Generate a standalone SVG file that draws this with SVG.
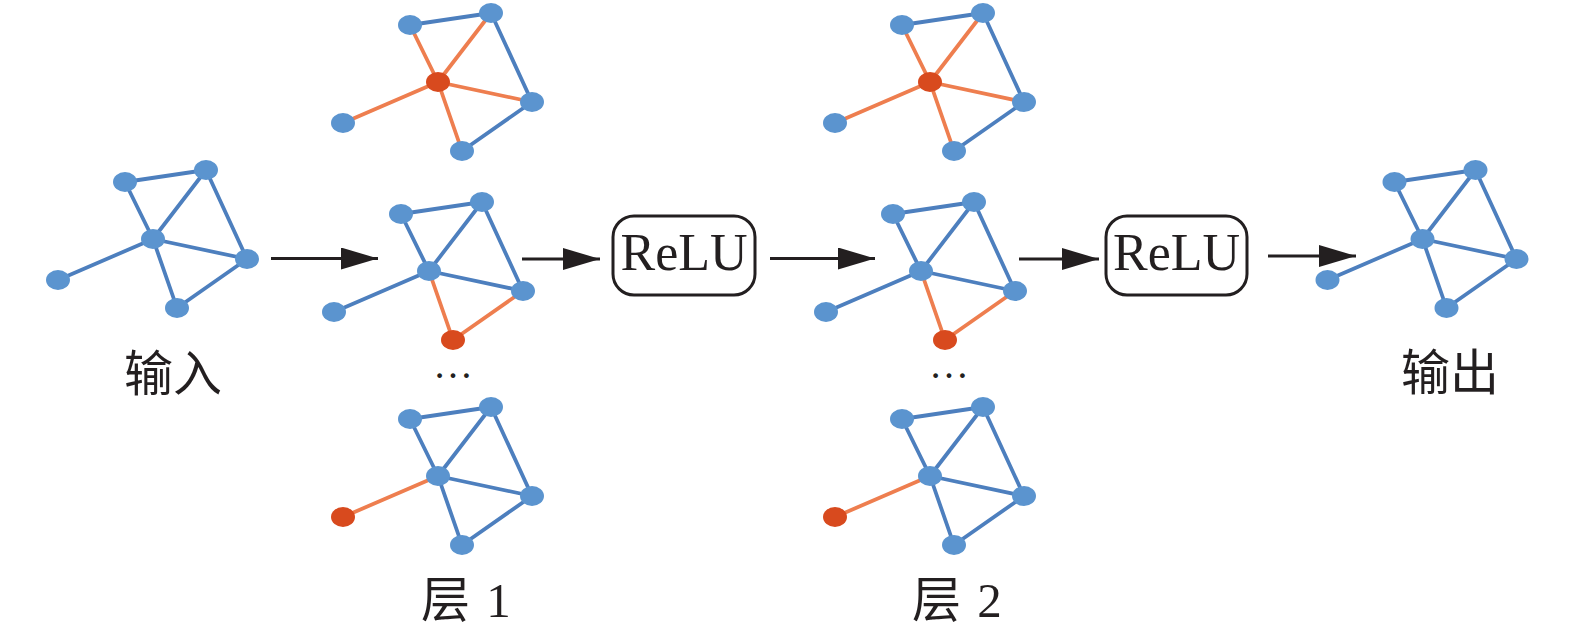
<svg xmlns="http://www.w3.org/2000/svg" width="1575" height="634" viewBox="0 0 1575 634">
<style>
.eb{stroke:#4D7FBE;stroke-width:3.8;fill:none;stroke-linecap:round}
.eo{stroke:#EE7E4F;stroke-width:3.8;fill:none;stroke-linecap:round}
.nb{fill:#5B94CF}
.nr{fill:#D84A1E}
.arrow{stroke:#231F20;stroke-width:3;fill:none}
.box{fill:#fff;stroke:#231F20;stroke-width:3}
.relu{font-family:"Liberation Serif","Times New Roman",serif;font-size:52px;fill:#231F20;text-anchor:middle}
.lbl{font-family:"Liberation Serif","Noto Sans CJK SC",serif;font-size:49px;fill:#231F20}
.dots{font-family:"Liberation Serif",serif;font-size:40px;fill:#231F20;text-anchor:middle}
</style>
<defs>
<marker id="ah" markerUnits="userSpaceOnUse" markerWidth="37" markerHeight="22" refX="37" refY="11" orient="auto">
<path d="M0,0 L37,11 L0,22 z" fill="#231F20"/>
</marker>
</defs>
<rect width="1575" height="634" fill="#fff"/>

<!-- input -->
<g id="input">
<line class="eb" x1="125" y1="182" x2="206" y2="170"/>
<line class="eb" x1="125" y1="182" x2="153" y2="239"/>
<line class="eb" x1="206" y1="170" x2="153" y2="239"/>
<line class="eb" x1="206" y1="170" x2="247" y2="259"/>
<line class="eb" x1="153" y1="239" x2="247" y2="259"/>
<line class="eb" x1="153" y1="239" x2="177" y2="308"/>
<line class="eb" x1="153" y1="239" x2="58" y2="280"/>
<line class="eb" x1="247" y1="259" x2="177" y2="308"/>
<ellipse class="nb" cx="125" cy="182" rx="12" ry="10"/>
<ellipse class="nb" cx="206" cy="170" rx="12" ry="10"/>
<ellipse class="nb" cx="153" cy="239" rx="12" ry="10"/>
<ellipse class="nb" cx="247" cy="259" rx="12" ry="10"/>
<ellipse class="nb" cx="177" cy="308" rx="12" ry="10"/>
<ellipse class="nb" cx="58" cy="280" rx="12" ry="10"/>
<text class="lbl" x="173" y="391" text-anchor="middle">输入</text>
</g>

<!-- layer 1 top -->
<g id="layer1-top" transform="translate(285,-157)">
<line class="eb" x1="125" y1="182" x2="206" y2="170"/>
<line class="eo" x1="125" y1="182" x2="153" y2="239"/>
<line class="eo" x1="206" y1="170" x2="153" y2="239"/>
<line class="eb" x1="206" y1="170" x2="247" y2="259"/>
<line class="eo" x1="153" y1="239" x2="247" y2="259"/>
<line class="eo" x1="153" y1="239" x2="177" y2="308"/>
<line class="eo" x1="153" y1="239" x2="58" y2="280"/>
<line class="eb" x1="247" y1="259" x2="177" y2="308"/>
<ellipse class="nb" cx="125" cy="182" rx="12" ry="10"/>
<ellipse class="nb" cx="206" cy="170" rx="12" ry="10"/>
<ellipse class="nr" cx="153" cy="239" rx="12" ry="10"/>
<ellipse class="nb" cx="247" cy="259" rx="12" ry="10"/>
<ellipse class="nb" cx="177" cy="308" rx="12" ry="10"/>
<ellipse class="nb" cx="58" cy="280" rx="12" ry="10"/>
</g>

<!-- layer 1 middle -->
<g id="layer1-mid" transform="translate(276,32)">
<line class="eb" x1="125" y1="182" x2="206" y2="170"/>
<line class="eb" x1="125" y1="182" x2="153" y2="239"/>
<line class="eb" x1="206" y1="170" x2="153" y2="239"/>
<line class="eb" x1="206" y1="170" x2="247" y2="259"/>
<line class="eb" x1="153" y1="239" x2="247" y2="259"/>
<line class="eo" x1="153" y1="239" x2="177" y2="308"/>
<line class="eb" x1="153" y1="239" x2="58" y2="280"/>
<line class="eo" x1="247" y1="259" x2="177" y2="308"/>
<ellipse class="nb" cx="125" cy="182" rx="12" ry="10"/>
<ellipse class="nb" cx="206" cy="170" rx="12" ry="10"/>
<ellipse class="nb" cx="153" cy="239" rx="12" ry="10"/>
<ellipse class="nb" cx="247" cy="259" rx="12" ry="10"/>
<ellipse class="nr" cx="177" cy="308" rx="12" ry="10"/>
<ellipse class="nb" cx="58" cy="280" rx="12" ry="10"/>
</g>

<text id="layer1-dots" class="dots" x="453" y="378">…</text>

<!-- layer 1 bottom -->
<g id="layer1-bot" transform="translate(285,237)">
<line class="eb" x1="125" y1="182" x2="206" y2="170"/>
<line class="eb" x1="125" y1="182" x2="153" y2="239"/>
<line class="eb" x1="206" y1="170" x2="153" y2="239"/>
<line class="eb" x1="206" y1="170" x2="247" y2="259"/>
<line class="eb" x1="153" y1="239" x2="247" y2="259"/>
<line class="eb" x1="153" y1="239" x2="177" y2="308"/>
<line class="eo" x1="153" y1="239" x2="58" y2="280"/>
<line class="eb" x1="247" y1="259" x2="177" y2="308"/>
<ellipse class="nb" cx="125" cy="182" rx="12" ry="10"/>
<ellipse class="nb" cx="206" cy="170" rx="12" ry="10"/>
<ellipse class="nb" cx="153" cy="239" rx="12" ry="10"/>
<ellipse class="nb" cx="247" cy="259" rx="12" ry="10"/>
<ellipse class="nb" cx="177" cy="308" rx="12" ry="10"/>
<ellipse class="nr" cx="58" cy="280" rx="12" ry="10"/>
</g>
<text id="layer1-label" class="lbl" x="421" y="617">层 <tspan dx="4">1</tspan></text>

<!-- ReLU 1 -->
<g id="relu1">
<rect class="box" x="613" y="216" width="142" height="79" rx="21"/>
<text class="relu" x="684" y="269.5">ReLU</text>
</g>

<!-- layer 2 top -->
<g id="layer2-top" transform="translate(777,-157)">
<line class="eb" x1="125" y1="182" x2="206" y2="170"/>
<line class="eo" x1="125" y1="182" x2="153" y2="239"/>
<line class="eo" x1="206" y1="170" x2="153" y2="239"/>
<line class="eb" x1="206" y1="170" x2="247" y2="259"/>
<line class="eo" x1="153" y1="239" x2="247" y2="259"/>
<line class="eo" x1="153" y1="239" x2="177" y2="308"/>
<line class="eo" x1="153" y1="239" x2="58" y2="280"/>
<line class="eb" x1="247" y1="259" x2="177" y2="308"/>
<ellipse class="nb" cx="125" cy="182" rx="12" ry="10"/>
<ellipse class="nb" cx="206" cy="170" rx="12" ry="10"/>
<ellipse class="nr" cx="153" cy="239" rx="12" ry="10"/>
<ellipse class="nb" cx="247" cy="259" rx="12" ry="10"/>
<ellipse class="nb" cx="177" cy="308" rx="12" ry="10"/>
<ellipse class="nb" cx="58" cy="280" rx="12" ry="10"/>
</g>

<!-- layer 2 middle -->
<g id="layer2-mid" transform="translate(768,32)">
<line class="eb" x1="125" y1="182" x2="206" y2="170"/>
<line class="eb" x1="125" y1="182" x2="153" y2="239"/>
<line class="eb" x1="206" y1="170" x2="153" y2="239"/>
<line class="eb" x1="206" y1="170" x2="247" y2="259"/>
<line class="eb" x1="153" y1="239" x2="247" y2="259"/>
<line class="eo" x1="153" y1="239" x2="177" y2="308"/>
<line class="eb" x1="153" y1="239" x2="58" y2="280"/>
<line class="eo" x1="247" y1="259" x2="177" y2="308"/>
<ellipse class="nb" cx="125" cy="182" rx="12" ry="10"/>
<ellipse class="nb" cx="206" cy="170" rx="12" ry="10"/>
<ellipse class="nb" cx="153" cy="239" rx="12" ry="10"/>
<ellipse class="nb" cx="247" cy="259" rx="12" ry="10"/>
<ellipse class="nr" cx="177" cy="308" rx="12" ry="10"/>
<ellipse class="nb" cx="58" cy="280" rx="12" ry="10"/>
</g>

<text id="layer2-dots" class="dots" x="949" y="378">…</text>

<!-- layer 2 bottom -->
<g id="layer2-bot" transform="translate(777,237)">
<line class="eb" x1="125" y1="182" x2="206" y2="170"/>
<line class="eb" x1="125" y1="182" x2="153" y2="239"/>
<line class="eb" x1="206" y1="170" x2="153" y2="239"/>
<line class="eb" x1="206" y1="170" x2="247" y2="259"/>
<line class="eb" x1="153" y1="239" x2="247" y2="259"/>
<line class="eb" x1="153" y1="239" x2="177" y2="308"/>
<line class="eo" x1="153" y1="239" x2="58" y2="280"/>
<line class="eb" x1="247" y1="259" x2="177" y2="308"/>
<ellipse class="nb" cx="125" cy="182" rx="12" ry="10"/>
<ellipse class="nb" cx="206" cy="170" rx="12" ry="10"/>
<ellipse class="nb" cx="153" cy="239" rx="12" ry="10"/>
<ellipse class="nb" cx="247" cy="259" rx="12" ry="10"/>
<ellipse class="nb" cx="177" cy="308" rx="12" ry="10"/>
<ellipse class="nr" cx="58" cy="280" rx="12" ry="10"/>
</g>
<text id="layer2-label" class="lbl" x="912" y="617">层 <tspan dx="4">2</tspan></text>

<!-- ReLU 2 -->
<g id="relu2">
<rect class="box" x="1106" y="216" width="141" height="79" rx="21"/>
<text class="relu" x="1176.5" y="269.5">ReLU</text>
</g>

<!-- output -->
<g id="output">
<g transform="translate(1269.5,0)">
<line class="eb" x1="125" y1="182" x2="206" y2="170"/>
<line class="eb" x1="125" y1="182" x2="153" y2="239"/>
<line class="eb" x1="206" y1="170" x2="153" y2="239"/>
<line class="eb" x1="206" y1="170" x2="247" y2="259"/>
<line class="eb" x1="153" y1="239" x2="247" y2="259"/>
<line class="eb" x1="153" y1="239" x2="177" y2="308"/>
<line class="eb" x1="153" y1="239" x2="58" y2="280"/>
<line class="eb" x1="247" y1="259" x2="177" y2="308"/>
<ellipse class="nb" cx="125" cy="182" rx="12" ry="10"/>
<ellipse class="nb" cx="206" cy="170" rx="12" ry="10"/>
<ellipse class="nb" cx="153" cy="239" rx="12" ry="10"/>
<ellipse class="nb" cx="247" cy="259" rx="12" ry="10"/>
<ellipse class="nb" cx="177" cy="308" rx="12" ry="10"/>
<ellipse class="nb" cx="58" cy="280" rx="12" ry="10"/>
</g>
<text class="lbl" x="1450" y="390" text-anchor="middle">输出</text>
</g>

<!-- connectors -->
<g id="connectors">
<line class="arrow" x1="271" y1="258.5" x2="378" y2="258.5" marker-end="url(#ah)"/>
<line class="arrow" x1="522" y1="259" x2="600" y2="259" marker-end="url(#ah)"/>
<line class="arrow" x1="770" y1="258.5" x2="875" y2="258.5" marker-end="url(#ah)"/>
<line class="arrow" x1="1019" y1="259" x2="1099" y2="259" marker-end="url(#ah)"/>
<line class="arrow" x1="1268" y1="256" x2="1356" y2="256" marker-end="url(#ah)"/>
</g>
</svg>
